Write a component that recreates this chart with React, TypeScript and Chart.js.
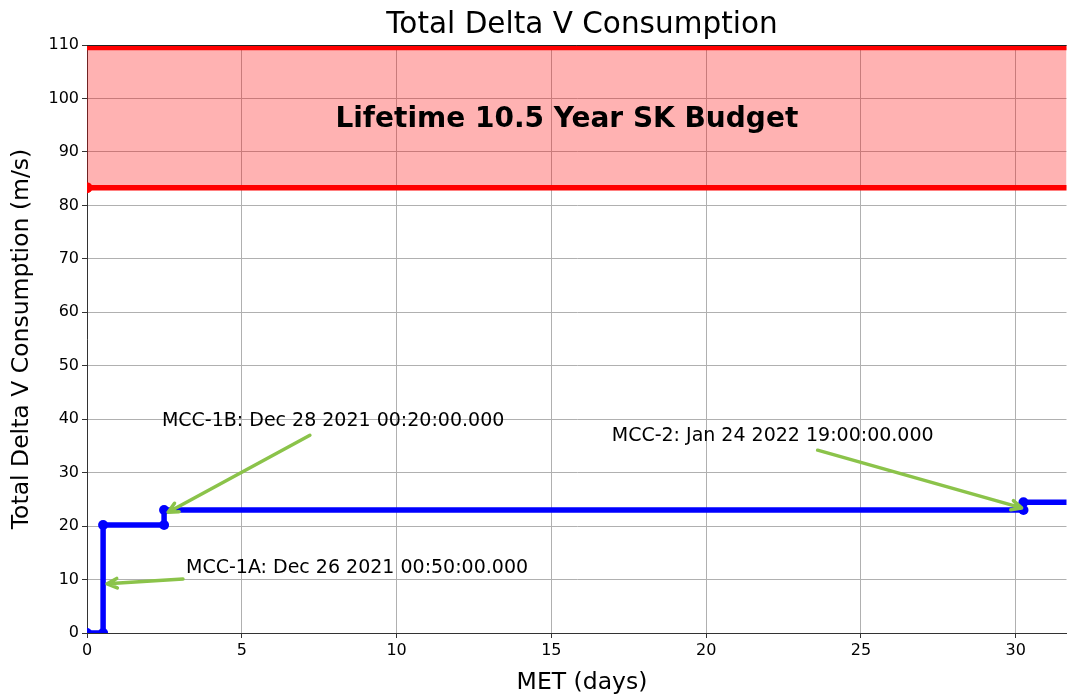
import React, { useEffect, useRef } from "react";
import { Chart, registerables } from "chart.js";

Chart.register(...registerables);

const X_MAX = 31.64;
// Blue consumption path (MET days, m/s)
const metDays = [0, 0.52, 0.52, 2.49, 2.49, 30.25, 30.25, 32.5];
const deltaV = [0, 0, 20.2, 20.2, 23.0, 23.0, 24.45, 24.45];
const bluePointRadius = [5, 5, 5, 5, 5, 5, 5, 0];

// Budget band
const budgetX = [0, 32.5];
const budgetLow = [83.3, 83.3];
const budgetHigh = [109.5, 109.5];

const xTicks = [0, 5, 10, 15, 20, 25, 30];
const yTicks = [0, 10, 20, 30, 40, 50, 60, 70, 80, 90, 100, 110];

const annotations = [
  { text: "MCC-1B: Dec 28 2021 00:20:00.000", tx: 2.42, ty: 39.7, x0: 7.2, y0: 37.0, x1: 2.62, y1: 22.6 },
  { text: "MCC-1A: Dec 26 2021 00:50:00.000", tx: 3.2, ty: 12.2, x0: 3.1, y0: 10.1, x1: 0.65, y1: 9.2 },
  { text: "MCC-2: Jan 24 2022 19:00:00.000", tx: 16.95, ty: 36.9, x0: 23.6, y0: 34.2, x1: 30.19, y1: 23.4 },
];

const FONT = "'DejaVu Sans', sans-serif";

const overlayPlugin = {
  id: "overlay",
  afterDatasetsDraw(chart: any) {
    const { ctx, chartArea, scales } = chart;
    const xs = scales.x;
    const ys = scales.y;
    ctx.save();
    // top spine
    ctx.strokeStyle = "#222";
    ctx.lineWidth = 1;
    ctx.beginPath();
    ctx.moveTo(chartArea.left, chartArea.top + 0.5);
    ctx.lineTo(chartArea.right, chartArea.top + 0.5);
    ctx.stroke();

    // band label
    ctx.fillStyle = "#000";
    ctx.font = `bold 28px ${FONT}`;
    ctx.textAlign = "center";
    ctx.textBaseline = "middle";
    ctx.fillText("Lifetime 10.5 Year SK Budget", xs.getPixelForValue(15.5), ys.getPixelForValue(96.0));

    // annotations
    ctx.font = `19px ${FONT}`;
    ctx.textAlign = "left";
    for (const a of annotations) {
      ctx.fillStyle = "#000";
      ctx.fillText(a.text, xs.getPixelForValue(a.tx), ys.getPixelForValue(a.ty));
      const px0 = xs.getPixelForValue(a.x0), py0 = ys.getPixelForValue(a.y0);
      const px1 = xs.getPixelForValue(a.x1), py1 = ys.getPixelForValue(a.y1);
      ctx.strokeStyle = "rgb(139,195,74)";
      ctx.lineWidth = 3.5;
      ctx.lineCap = "round";
      ctx.lineJoin = "round";
      ctx.beginPath();
      ctx.moveTo(px0, py0);
      ctx.lineTo(px1, py1);
      const ang = Math.atan2(py1 - py0, px1 - px0);
      const L = 11, spread = 0.45;
      ctx.moveTo(px1 - L * Math.cos(ang - spread), py1 - L * Math.sin(ang - spread));
      ctx.lineTo(px1, py1);
      ctx.lineTo(px1 - L * Math.cos(ang + spread), py1 - L * Math.sin(ang + spread));
      ctx.stroke();
    }

    // title
    ctx.fillStyle = "#000";
    ctx.font = `29.5px ${FONT}`;
    ctx.textAlign = "center";
    ctx.fillText("Total Delta V Consumption", 582, 25);

    // axis titles
    ctx.font = `23.5px ${FONT}`;
    ctx.fillText("MET (days)", 582, 683);
    ctx.translate(22, 339);
    ctx.rotate(-Math.PI / 2);
    ctx.fillText("Total Delta V Consumption (m/s)", 0, 0);
    ctx.restore();
  },
};

export default function App() {
  const ref = useRef<HTMLCanvasElement>(null);
  useEffect(() => {
    document.body.style.margin = "0";
    const canvas = ref.current!;
    const chart = new Chart(canvas, {
      type: "line",
      data: {
        datasets: [
          {
            label: "high",
            data: budgetX.map((x, i) => ({ x, y: budgetHigh[i] })),
            borderColor: "#ff0000",
            borderWidth: 5,
            pointRadius: 0,
            fill: "+1",
            backgroundColor: "rgba(255,0,0,0.3)",
            clip: 0,
          },
          {
            label: "low",
            data: budgetX.map((x, i) => ({ x, y: budgetLow[i] })),
            borderColor: "#ff0000",
            borderWidth: 5.5,
            pointRadius: [5.5, 0],
            pointBackgroundColor: "#ff0000",
            pointBorderWidth: 0,
            fill: false,
          },
          {
            label: "dv",
            data: metDays.map((x, i) => ({ x, y: deltaV[i] })),
            borderColor: "#0000ff",
            borderWidth: 5.5,
            pointRadius: bluePointRadius,
            pointBackgroundColor: "#0000ff",
            pointBorderWidth: 0,
            fill: false,
          },
        ],
      },
      options: {
        responsive: false,
        animation: false,
        devicePixelRatio: 1,
        layout: { padding: { top: 45, left: 0, right: 0, bottom: 0 } },
        plugins: { legend: { display: false }, tooltip: { enabled: false } },
        scales: {
          x: {
            type: "linear",
            min: 0,
            max: X_MAX,
            afterFit: (s: any) => { s.height = 63; },
            afterBuildTicks: (s: any) => { s.ticks = xTicks.map((v) => ({ value: v })); },
            ticks: { color: "#000", font: { family: FONT, size: 16 }, padding: 3, includeBounds: false, maxRotation: 0 },
            grid: { color: "#b0b0b0", lineWidth: 1, tickLength: 5, tickColor: "#333" },
            border: { color: "#333", width: 1 },
          },
          y: {
            min: 0,
            max: 110,
            afterFit: (s: any) => { s.width = 87; },
            afterBuildTicks: (s: any) => { s.ticks = yTicks.map((v) => ({ value: v })); },
            ticks: { color: "#000", font: { family: FONT, size: 16 }, padding: 3 },
            grid: { color: "#b0b0b0", lineWidth: 1, tickLength: 5, tickColor: "#333" },
            border: { color: "#333", width: 1 },
          },
        },
      },
      plugins: [overlayPlugin],
    } as any);
    return () => chart.destroy();
  }, []);
  return (
    <div style={{ width: 1067, height: 696, overflow: "hidden" }}>
      <canvas ref={ref} width={1072} height={696} style={{ display: "block" }} />
    </div>
  );
}
